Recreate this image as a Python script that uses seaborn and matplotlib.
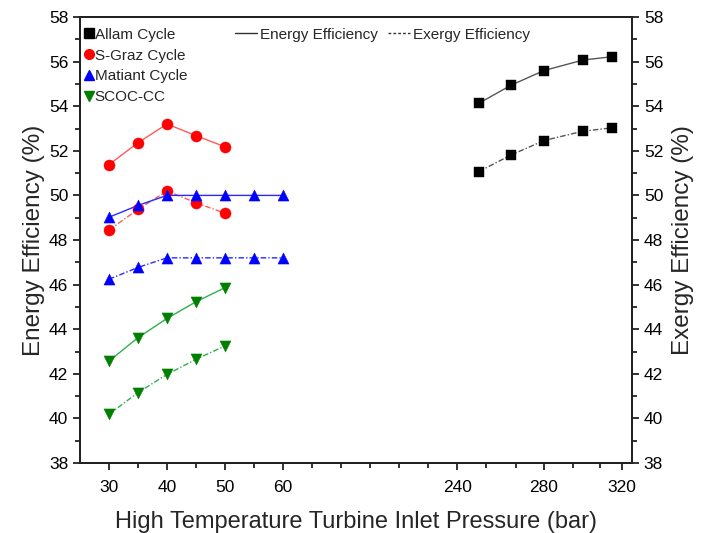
import numpy as np
import pandas as pd
import matplotlib
matplotlib.use("Agg")
import matplotlib.pyplot as plt
import seaborn as sns
from matplotlib.lines import Line2D
from matplotlib.ticker import FixedLocator

sns.set_theme(style="ticks")
plt.rcParams['font.family'] = ['Liberation Sans', 'DejaVu Sans']

# ---- data ----
allam_p = [250, 265, 280, 300, 315]
allam_energy = [54.13, 54.95, 55.60, 56.07, 56.22]
allam_exergy = [51.07, 51.82, 52.46, 52.88, 53.03]

sgraz_p = [30, 35, 40, 45, 50]
sgraz_energy = [51.38, 52.36, 53.20, 52.68, 52.18]
sgraz_exergy = [48.45, 49.37, 50.20, 49.67, 49.20]

matiant_p = [30, 35, 40, 45, 50, 55, 60]
matiant_energy = [49.02, 49.55, 50.0, 50.0, 50.0, 50.0, 50.0]
matiant_exergy = [46.24, 46.77, 47.2, 47.2, 47.2, 47.2, 47.2]

scoc_p = [30, 35, 40, 45, 50]
scoc_energy = [42.57, 43.62, 44.48, 45.23, 45.86]
scoc_exergy = [40.18, 41.16, 41.97, 42.65, 43.25]

major_ticks = [30, 40, 50, 60, 240, 280, 320]
tick_labels = ["30", "40", "50", "60", "240", "280", "320"]
minor_ticks = [35, 45, 55, 65, 100, 135, 170, 205, 253.5, 267, 295, 308.5]

# ---- broken-looking axis scale (piecewise linear) ----
anchor_x = np.array([-1000, 25, 65, 240, 280, 320, 325, 10000])
anchor_p = np.array([79.7 - 1025 * 5.8, 79.7, 311.7, 457, 544, 622, 632, 632 + 9675 * 2.0])

def fwd(x):
    return np.interp(x, anchor_x, anchor_p)

def inv(p):
    return np.interp(p, anchor_p, anchor_x)

fig = plt.figure(figsize=(7.05, 5.33), dpi=100)
ax = fig.add_axes([80 / 705, 70 / 533, 552 / 705, 446 / 533])
ax.set_xscale('function', functions=(fwd, inv))

series = [
    ("Allam Cycle", allam_p, allam_energy, allam_exergy, 's', 'black', '#555555', 7.8),
    ("S-Graz Cycle", sgraz_p, sgraz_energy, sgraz_exergy, 'o', '#ff0000', '#ff5a5a', 8),
    ("Matiant Cycle", matiant_p, matiant_energy, matiant_exergy, '^', '#0000ff', '#2a2aff', 8),
    ("SCOC-CC", scoc_p, scoc_energy, scoc_exergy, 'v', '#008000', '#2fb04f', 8),
]

dash_exergy = (0, (4, 1.5, 1, 1.5))
for name, p, en, ex, mk, mcol, lcol, ms in series:
    sns.lineplot(x=p, y=en, ax=ax, color=lcol, lw=1.0, linestyle='-', marker=None)
    sns.lineplot(x=p, y=ex, ax=ax, color=lcol, lw=1.0, linestyle=dash_exergy, marker=None)
    sns.scatterplot(x=p + p, y=en + ex, ax=ax, marker=mk, color=mcol, s=ms ** 2,
                    edgecolor=mcol, linewidth=0.3, zorder=5)

ax.set_xlim(25, 325)
ax.set_ylim(38, 58)
ax.xaxis.set_major_locator(FixedLocator(major_ticks))
ax.set_xticklabels(tick_labels)
ax.xaxis.set_minor_locator(FixedLocator(minor_ticks))
ax.set_yticks(np.arange(38, 59, 2))
ax.yaxis.set_minor_locator(FixedLocator(np.arange(39, 58, 2)))

for sp in ax.spines.values():
    sp.set_linewidth(1.4)
    sp.set_color('#222222')
ax.tick_params(axis='both', which='major', direction='out', length=5, width=1.3,
               labelsize=12.5, colors='#222222', labelcolor='black')
ax.tick_params(axis='both', which='minor', direction='out', length=3.5, width=1.3,
               colors='#222222')
ax.tick_params(axis='x', which='major', pad=7)

ax.set_xlabel("High Temperature Turbine Inlet Pressure (bar)", fontsize=17, labelpad=12)
ax.set_ylabel("Energy Efficiency (%)", fontsize=17.5, labelpad=3)

ax2 = ax.twinx()
ax2.set_ylim(38, 58)
ax2.set_yticks(np.arange(38, 59, 2))
ax2.yaxis.set_minor_locator(FixedLocator(np.arange(39, 58, 2)))
ax2.tick_params(axis='y', which='major', direction='out', length=5, width=1.3,
                labelsize=12.5, colors='#222222', labelcolor='black')
ax2.tick_params(axis='y', which='minor', direction='out', length=3.5, width=1.3,
                colors='#222222')
for sp in ax2.spines.values():
    sp.set_linewidth(1.4)
    sp.set_color('#222222')
ax2.set_ylabel("Exergy Efficiency (%)", fontsize=17.5, labelpad=6)

# legends
handles1 = [Line2D([], [], marker=mk, color=mcol, linestyle='none', markersize=7)
            for name, p, en, ex, mk, mcol, lcol, ms in series]
labels1 = [s[0] for s in series]
leg1 = ax2.legend(handles1, labels1, loc='upper left', bbox_to_anchor=(-0.012, 1.0),
                  frameon=False, fontsize=11, handlelength=0.6, handletextpad=0.1,
                  labelspacing=0.45, borderaxespad=0.3)
ax2.add_artist(leg1)
handles2 = [Line2D([], [], color='#333333', lw=1.0, linestyle='-'),
            Line2D([], [], color='#333333', lw=1.0, linestyle=(0, (2, 1.5)))]
ax2.legend(handles2, ["Energy Efficiency", "Exergy Efficiency"], loc='upper left',
           bbox_to_anchor=(0.262, 1.0), ncol=2, frameon=False, fontsize=11,
           handlelength=1.4, handletextpad=0.2, columnspacing=0.7, borderaxespad=0.3)

fig.savefig("out.png", dpi=100)
